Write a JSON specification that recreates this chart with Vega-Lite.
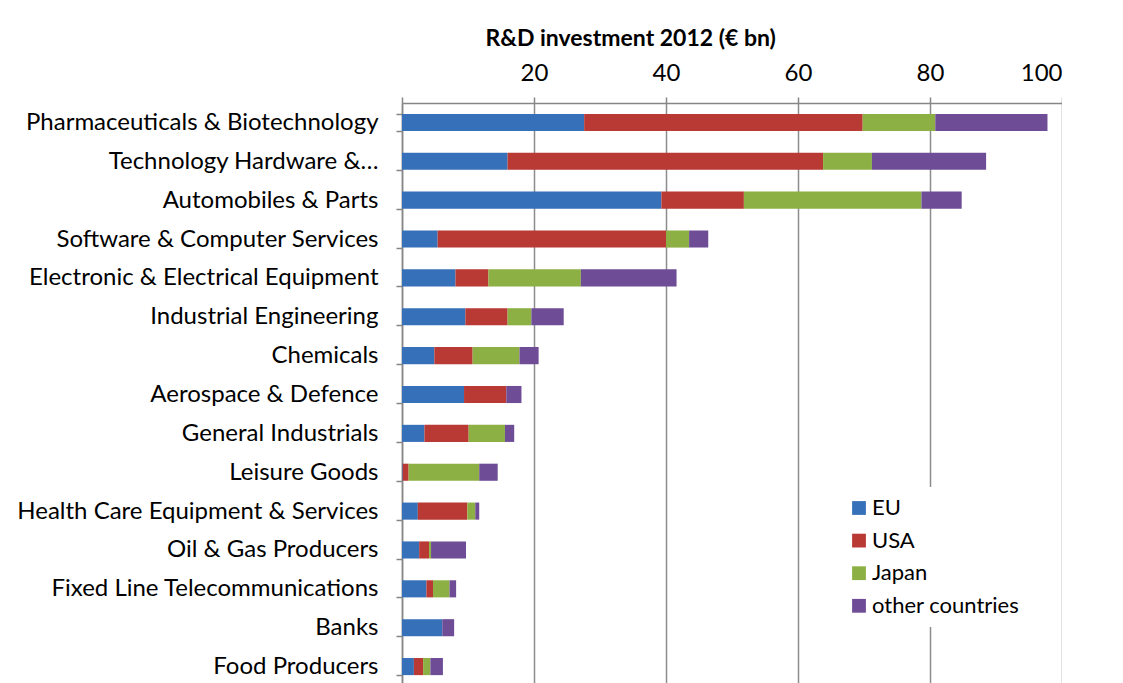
{
  "$schema": "https://vega.github.io/schema/vega-lite/v6.json",
  "width": 660,
  "height": 583,
  "autosize": {"type": "none"},
  "padding": {"left": 402, "top": 103, "right": 0, "bottom": 0},
  "background": "white",
  "config": {"font": "Lato", "view": {"stroke": null}},
  "data": {
    "values": [
      {"industry": "Pharmaceuticals & Biotechnology", "region": "EU", "o": 1, "value": 27.6},
      {"industry": "Pharmaceuticals & Biotechnology", "region": "USA", "o": 2, "value": 42.2},
      {"industry": "Pharmaceuticals & Biotechnology", "region": "Japan", "o": 3, "value": 11.0},
      {"industry": "Pharmaceuticals & Biotechnology", "region": "other countries", "o": 4, "value": 17.0},
      {"industry": "Technology Hardware &…", "region": "EU", "o": 1, "value": 16.0},
      {"industry": "Technology Hardware &…", "region": "USA", "o": 2, "value": 47.8},
      {"industry": "Technology Hardware &…", "region": "Japan", "o": 3, "value": 7.4},
      {"industry": "Technology Hardware &…", "region": "other countries", "o": 4, "value": 17.3},
      {"industry": "Automobiles & Parts", "region": "EU", "o": 1, "value": 39.3},
      {"industry": "Automobiles & Parts", "region": "USA", "o": 2, "value": 12.5},
      {"industry": "Automobiles & Parts", "region": "Japan", "o": 3, "value": 26.9},
      {"industry": "Automobiles & Parts", "region": "other countries", "o": 4, "value": 6.1},
      {"industry": "Software & Computer Services", "region": "EU", "o": 1, "value": 5.4},
      {"industry": "Software & Computer Services", "region": "USA", "o": 2, "value": 34.6},
      {"industry": "Software & Computer Services", "region": "Japan", "o": 3, "value": 3.5},
      {"industry": "Software & Computer Services", "region": "other countries", "o": 4, "value": 2.9},
      {"industry": "Electronic & Electrical Equipment", "region": "EU", "o": 1, "value": 8.1},
      {"industry": "Electronic & Electrical Equipment", "region": "USA", "o": 2, "value": 5.0},
      {"industry": "Electronic & Electrical Equipment", "region": "Japan", "o": 3, "value": 14.0},
      {"industry": "Electronic & Electrical Equipment", "region": "other countries", "o": 4, "value": 14.5},
      {"industry": "Industrial Engineering", "region": "EU", "o": 1, "value": 9.6},
      {"industry": "Industrial Engineering", "region": "USA", "o": 2, "value": 6.4},
      {"industry": "Industrial Engineering", "region": "Japan", "o": 3, "value": 3.6},
      {"industry": "Industrial Engineering", "region": "other countries", "o": 4, "value": 4.9},
      {"industry": "Chemicals", "region": "EU", "o": 1, "value": 4.9},
      {"industry": "Chemicals", "region": "USA", "o": 2, "value": 5.8},
      {"industry": "Chemicals", "region": "Japan", "o": 3, "value": 7.1},
      {"industry": "Chemicals", "region": "other countries", "o": 4, "value": 2.9},
      {"industry": "Aerospace & Defence", "region": "EU", "o": 1, "value": 9.4},
      {"industry": "Aerospace & Defence", "region": "USA", "o": 2, "value": 6.4},
      {"industry": "Aerospace & Defence", "region": "Japan", "o": 3, "value": 0},
      {"industry": "Aerospace & Defence", "region": "other countries", "o": 4, "value": 2.3},
      {"industry": "General Industrials", "region": "EU", "o": 1, "value": 3.4},
      {"industry": "General Industrials", "region": "USA", "o": 2, "value": 6.7},
      {"industry": "General Industrials", "region": "Japan", "o": 3, "value": 5.5},
      {"industry": "General Industrials", "region": "other countries", "o": 4, "value": 1.4},
      {"industry": "Leisure Goods", "region": "EU", "o": 1, "value": 0.1},
      {"industry": "Leisure Goods", "region": "USA", "o": 2, "value": 0.9},
      {"industry": "Leisure Goods", "region": "Japan", "o": 3, "value": 10.7},
      {"industry": "Leisure Goods", "region": "other countries", "o": 4, "value": 2.8},
      {"industry": "Health Care Equipment & Services", "region": "EU", "o": 1, "value": 2.4},
      {"industry": "Health Care Equipment & Services", "region": "USA", "o": 2, "value": 7.5},
      {"industry": "Health Care Equipment & Services", "region": "Japan", "o": 3, "value": 1.2},
      {"industry": "Health Care Equipment & Services", "region": "other countries", "o": 4, "value": 0.6},
      {"industry": "Oil & Gas Producers", "region": "EU", "o": 1, "value": 2.6},
      {"industry": "Oil & Gas Producers", "region": "USA", "o": 2, "value": 1.5},
      {"industry": "Oil & Gas Producers", "region": "Japan", "o": 3, "value": 0.3},
      {"industry": "Oil & Gas Producers", "region": "other countries", "o": 4, "value": 5.3},
      {"industry": "Fixed Line Telecommunications", "region": "EU", "o": 1, "value": 3.7},
      {"industry": "Fixed Line Telecommunications", "region": "USA", "o": 2, "value": 1.0},
      {"industry": "Fixed Line Telecommunications", "region": "Japan", "o": 3, "value": 2.5},
      {"industry": "Fixed Line Telecommunications", "region": "other countries", "o": 4, "value": 1.0},
      {"industry": "Banks", "region": "EU", "o": 1, "value": 6.1},
      {"industry": "Banks", "region": "USA", "o": 2, "value": 0},
      {"industry": "Banks", "region": "Japan", "o": 3, "value": 0},
      {"industry": "Banks", "region": "other countries", "o": 4, "value": 1.8},
      {"industry": "Food Producers", "region": "EU", "o": 1, "value": 1.8},
      {"industry": "Food Producers", "region": "USA", "o": 2, "value": 1.4},
      {"industry": "Food Producers", "region": "Japan", "o": 3, "value": 1.1},
      {"industry": "Food Producers", "region": "other countries", "o": 4, "value": 1.9}
    ]
  },
  "mark": {"type": "bar"},
  "encoding": {
    "y": {
      "field": "industry",
      "type": "nominal",
      "sort": null,
      "scale": {"paddingInner": 0.56, "paddingOuter": 0.28},
      "axis": {
        "title": null,
        "orient": "left",
        "tickBand": "extent",
        "grid": false,
        "domainColor": "#868686",
        "domainWidth": 1.5,
        "tickColor": "#868686",
        "tickWidth": 1.5,
        "tickSize": 6,
        "labelFontSize": 24,
        "labelColor": "#000000",
        "labelPadding": 18,
        "labelLimit": 450
      }
    },
    "x": {
      "field": "value",
      "type": "quantitative",
      "stack": "zero",
      "scale": {"domain": [0, 100], "nice": false},
      "axis": {
        "orient": "top",
        "values": [0, 20, 40, 60, 80, 100],
        "labelExpr": "datum.value == 0 ? '' : datum.label",
        "grid": true,
        "gridColor": "#8c8c8c",
        "gridWidth": 1.5,
        "domainColor": "#868686",
        "domainWidth": 1.5,
        "tickColor": "#868686",
        "tickWidth": 1.5,
        "tickSize": 6,
        "labelFontSize": 24,
        "labelColor": "#000000",
        "labelPadding": 12,
        "title": "R&D investment 2012 (€ bn)",
        "titleFontSize": 23,
        "titleFontWeight": "bold",
        "titleColor": "#000000",
        "titleAnchor": "start",
        "titleAlign": "left",
        "titleX": 83,
        "titleY": -65,
        "titleBaseline": "middle"
      }
    },
    "color": {
      "field": "region",
      "type": "nominal",
      "sort": ["EU", "USA", "Japan", "other countries"],
      "scale": {
        "domain": ["EU", "USA", "Japan", "other countries"],
        "range": ["#3670b8", "#b93935", "#8cb043", "#6e4c96"]
      },
      "legend": {
        "orient": "none",
        "legendX": 436,
        "legendY": 384,
        "title": null,
        "fillColor": "white",
        "padding": 10,
        "symbolType": "square",
        "symbolSize": 190,
        "symbolStrokeWidth": 0,
        "labelFontSize": 22,
        "labelColor": "#000000",
        "labelOffset": 2,
        "rowPadding": 10.6
      }
    },
    "order": {"field": "o", "type": "quantitative"}
  }
}
